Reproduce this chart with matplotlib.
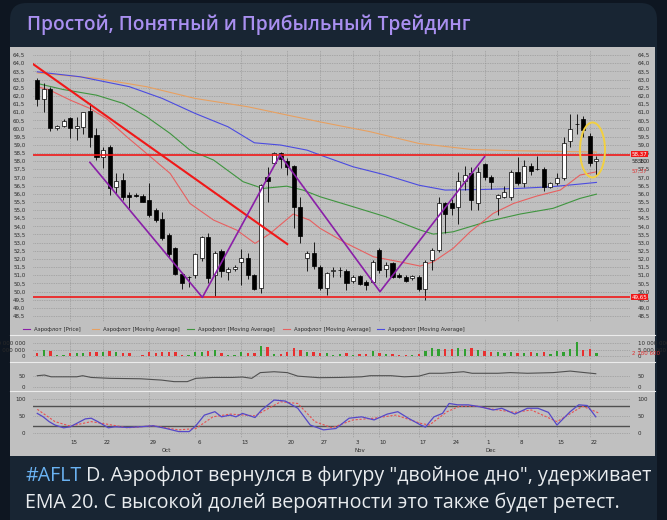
import numpy as np
import matplotlib
matplotlib.use('Agg')
import matplotlib.pyplot as plt
from matplotlib.patches import FancyBboxPatch, Rectangle, Ellipse
from matplotlib.lines import Line2D
from matplotlib.transforms import blended_transform_factory

W, H = 667, 520

# --- свечи (open, high, low, close) ---
opens = [62.96, 61.78, 62.39, 60.00, 60.14, 60.61, 60.00, 60.10, 61.08, 59.59,
         58.26, 58.88, 56.38, 56.83, 55.90, 55.90, 55.85, 55.60, 54.99, 54.42,
         53.46, 52.64, 51.07, 50.86, 51.00, 52.03, 53.32, 51.00, 52.50, 51.20,
         51.35, 51.83, 52.05, 51.00, 50.19, 57.00, 57.90, 58.47, 58.00, 57.69,
         55.20, 52.03, 52.37, 51.52, 50.19, 51.27, 51.30, 51.27, 50.66, 50.95,
         50.60, 50.60, 52.54, 51.35, 51.72, 51.00, 50.90, 50.80, 50.90, 50.13,
         51.93, 52.54, 55.40, 55.40, 55.20, 56.79, 57.24, 55.40, 57.81, 57.04,
         55.71, 55.81, 55.77, 57.34, 56.63, 57.69, 57.49, 57.49, 56.38, 56.63,
         56.94, 59.24, 60.27, 60.55, 59.53, 57.98]
highs = [63.07, 62.76, 62.56, 60.20, 60.55, 60.72, 60.72, 61.02, 61.53, 60.00,
         58.84, 58.98, 57.28, 57.24, 56.10, 56.05, 56.00, 56.63, 55.10, 54.89,
         53.56, 52.70, 51.10, 50.95, 52.37, 53.40, 53.56, 52.50, 52.58, 51.50,
         51.62, 52.58, 52.37, 51.10, 56.59, 57.61, 58.57, 58.57, 58.16, 57.75,
         55.77, 52.50, 53.05, 51.62, 51.20, 51.52, 51.50, 51.35, 51.00, 51.00,
         50.70, 51.93, 52.64, 51.83, 51.83, 51.11, 51.00, 51.00, 51.00, 51.93,
         52.64, 55.81, 55.50, 55.65, 57.34, 57.69, 57.65, 57.61, 57.90, 57.14,
         56.01, 56.47, 57.44, 58.26, 58.06, 57.85, 58.30, 57.61, 56.73, 57.24,
         59.45, 60.88, 60.88, 60.76, 59.69, 58.30]
lows = [61.37, 61.02, 59.86, 59.90, 60.06, 59.39, 59.28, 59.65, 58.88, 58.06,
        57.55, 55.91, 56.01, 55.60, 55.10, 55.77, 55.50, 54.58, 54.28, 53.15,
        52.13, 51.00, 50.13, 50.25, 50.80, 51.90, 50.50, 49.70, 50.90, 50.70,
        51.27, 50.40, 50.74, 50.10, 49.88, 55.50, 57.75, 57.55, 57.14, 53.87,
        52.95, 51.27, 51.40, 50.09, 49.78, 50.90, 50.90, 50.09, 50.54, 50.40,
        50.09, 50.50, 51.11, 50.90, 50.80, 50.80, 50.60, 50.70, 50.05, 49.50,
        51.31, 52.44, 53.56, 54.69, 54.17, 56.22, 54.99, 54.99, 56.83, 56.26,
        54.69, 55.71, 55.60, 56.53, 56.38, 57.14, 57.44, 56.18, 56.32, 56.53,
        56.83, 58.84, 59.65, 59.45, 57.69, 57.14]
closes = [61.78, 62.39, 60.00, 60.14, 60.47, 60.00, 60.14, 60.98, 59.49, 58.26,
          58.67, 56.32, 56.79, 55.81, 55.81, 55.85, 55.50, 54.69, 54.38, 53.26,
          52.33, 51.10, 50.54, 50.86, 52.33, 53.32, 50.80, 52.37, 51.27, 51.35,
          51.52, 52.05, 51.00, 50.17, 56.53, 56.79, 58.51, 58.10, 57.65, 55.16,
          53.40, 52.37, 51.56, 50.19, 51.11, 51.30, 51.30, 50.54, 50.86, 50.46,
          50.40, 51.83, 51.31, 51.62, 50.90, 50.86, 50.66, 50.95, 50.13, 51.83,
          52.54, 55.40, 54.75, 55.10, 56.79, 57.14, 55.61, 57.34, 57.00, 56.73,
          55.91, 56.12, 57.34, 56.63, 57.69, 57.40, 57.49, 56.38, 56.63, 56.94,
          59.12, 59.94, 60.27, 59.90, 57.90, 58.10]

# объём, млн
volumes = [2.6, 5.0, 4.0, 0.6, 0.8, 2.2, 2.6, 2.0, 2.8, 3.2,
           3.0, 3.6, 3.0, 2.4, 2.6, 0.3, 0.4, 2.8, 2.0, 3.0,
           3.0, 3.4, 1.0, 0.8, 3.2, 2.8, 4.2, 4.6, 2.4, 0.8,
           0.4, 2.8, 2.6, 2.2, 8.0, 6.8, 1.2, 1.8, 3.2, 6.0,
           4.8, 3.0, 2.8, 2.0, 2.6, 1.0, 1.6, 2.6, 1.0, 1.2,
           1.2, 3.8, 2.4, 1.6, 1.2, 1.0, 0.8, 0.6, 1.2, 3.6,
           6.0, 5.4, 5.6, 5.4, 5.8, 5.6, 5.8, 5.0, 3.8, 3.4,
           2.8, 2.6, 3.2, 2.6, 2.4, 2.8, 2.6, 2.8, 1.8, 3.6,
           3.0, 5.2, 10.4, 4.4, 5.6, 2.4]

# скользящие средние: (индекс свечи, значение)
ma_orange_x = [0, 9, 16.6, 24, 32, 38, 43, 50.6, 58, 66, 73, 78, 85]
ma_orange_y = [63.4, 63.07, 62.56, 61.84, 61.33, 60.82, 60.4, 59.8, 59.08, 58.71, 58.63, 58.6, 58.55]
ma_blue_x = [0, 6.5, 14, 19, 24, 29, 33, 37, 41, 43, 48, 53, 58, 62, 68, 73, 78, 82.5, 85]
ma_blue_y = [63.47, 63.17, 62.56, 61.84, 60.92, 60.1, 59.12, 58.98, 58.67, 58.37, 57.65, 57.14,
             56.52, 56.22, 56.26, 56.32, 56.42, 56.59, 56.69]
ma_green_x = [0, 3.9, 9, 13.1, 16.6, 20.2, 23.2, 26.8, 31.3, 34.3, 37.9, 40.4, 43, 48, 53, 58.2,
              60.2, 63.2, 68.3, 73.4, 78.4, 82.5, 85]
ma_green_y = [62.76, 62.39, 62.04, 61.53, 60.72, 59.69, 58.67, 58.06, 56.73, 56.32, 56.46, 56.22,
              55.81, 55.2, 54.58, 53.77, 53.52, 53.66, 54.28, 54.75, 55.1, 55.71, 55.97]
ma_red_x = [0, 1.9, 5, 8, 10.5, 13.6, 16.6, 20.2, 23.2, 26.8, 30.3, 33.1, 35.4, 38.9, 41.4, 43,
            47, 51.1, 55.1, 58.2, 60.2, 63.2, 65.8, 69.3, 72.4, 75.9, 79.5, 82.5, 85]
ma_red_y = [62.56, 62.35, 61.74, 61.23, 60.61, 59.49, 58.47, 57.24, 55.4, 54.38, 53.77, 52.95,
            53.56, 54.75, 54.38, 53.87, 52.95, 52.13, 51.82, 51.56, 51.82, 52.64, 53.66, 54.79,
            55.4, 55.85, 56.22, 57.14, 57.34]

# разметка
trend_x = [-0.65, 38.0]
trend_y = [63.95, 52.91]
zigzag_x = [8.0, 25.1, 36.9, 52.1, 68.0]
zigzag_y = [57.92, 49.64, 58.37, 49.99, 58.27]
levels = [58.37, 49.65]

# нижние индикаторы
osc_x = [0, 1.1, 2.1, 6.0, 6.9, 8.2, 11.1, 15.7, 18.9, 20.8, 22.8, 24.1, 26.7, 29.6, 31.2, 32.6,
         33.9, 36.0, 38.0, 39.6, 42.8, 46.1, 49.3, 50.6, 53.8, 55.8, 58.0, 59.6, 61.6, 64.8,
         66.1, 70.0, 71.9, 74.5, 78.4, 81.0, 82.9, 84.9]
osc_y = [50, 53, 45, 45, 50, 42, 38, 36, 30, 23, 23, 38, 42, 42, 44, 38, 64, 68, 64, 48, 41, 42,
         45, 50, 50, 45, 48, 61, 61, 68, 61, 61, 64, 61, 64, 71, 65, 59]
stk_x = [0, 0.9, 1.8, 2.7, 4.0, 5.0, 7.3, 8.2, 9.2, 10.8, 11.8, 13.7, 15.7, 17.6, 19.6, 21.5,
         23.1, 24.1, 25.4, 27.0, 28.0, 29.3, 30.2, 31.2, 33.1, 34.1, 36.0, 37.7, 39.6, 41.5,
         43.5, 45.4, 47.4, 49.3, 51.2, 53.2, 54.8, 56.4, 58.3, 59.0, 60.3, 61.6, 62.6, 63.9,
         65.5, 67.4, 69.3, 70.6, 72.6, 74.5, 76.1, 77.7, 79.0, 81.0, 82.3, 83.6, 84.9]
stk_y = [58, 48, 34, 24, 16, 19, 42, 44, 34, 16, 19, 17, 19, 22, 14, 5, 5, 22, 53, 63, 48, 53,
         48, 58, 46, 68, 97, 94, 73, 24, 10, 14, 44, 48, 39, 56, 63, 44, 24, 18, 48, 58, 87, 83,
         83, 77, 68, 73, 56, 73, 73, 61, 24, 63, 83, 81, 48]
sig_x = [0, 2.7, 5, 8.2, 10.8, 13.7, 17.6, 21.5, 24.1, 26.7, 29.3, 33.1, 37.0, 39.6, 42.2, 44.8,
         48.0, 51.2, 54.5, 58.3, 59.6, 62.3, 64.2, 66.8, 69.3, 72.6, 75.1, 79.0, 82.9, 85.5]
sig_y = [70, 34, 21, 34, 26, 16, 22, 10, 14, 48, 56, 51, 92, 87, 34, 16, 39, 44, 53, 29, 24, 63,
         79, 79, 70, 61, 68, 34, 79, 58]

date_ticks = [5, 10, 17, 24, 31, 38, 43, 48, 52, 58, 63, 68, 73, 79, 84]
date_labels = ['15', '22', '29', '6', '13', '20', '27', '3', '10', '17', '24', '1', '8', '15', '22']
month_pos = [19.7, 49, 69]
month_labels = ['Oct', 'Nov', 'Dec']

title = 'Простой, Понятный и Прибыльный Трейдинг'
tag = '#AFLT'
line1 = ' D. Аэрофлот вернулся в фигуру "двойное дно", удерживает'
line2 = 'EMA 20. С высокой долей вероятности это также будет ретест.'

BG = '#0e1621'
CARD = '#182533'
GRAY = '#c0c0c0'
GRID = '#8c8c8c'
TXT = '#2a2a2a'


def box(x0, y0, x1, y1):
    return [x0 / W, 1 - y1 / H, (x1 - x0) / W, (y1 - y0) / H]


fig = plt.figure(figsize=(W / 100, H / 100), dpi=100)
fig.patch.set_facecolor(BG)
card = FancyBboxPatch((10 / W, -0.1), 647 / W, (H - 3) / H + 0.1,
                      boxstyle='round,pad=0,rounding_size=0.025',
                      transform=fig.transFigure, facecolor=CARD, edgecolor='none',
                      mutation_aspect=W / H, zorder=-3)
fig.add_artist(card)
fig.add_artist(Rectangle((10 / W, 1 - 456 / H), 645 / W, 409 / H, transform=fig.transFigure,
                         facecolor=GRAY, edgecolor='none', zorder=-2))
for yy in [335, 362, 391]:
    fig.add_artist(Line2D([10 / W, 655 / W], [1 - yy / H] * 2, color='#ececec', lw=0.8, zorder=-1))

XL = (-0.65, 90.1)
n = len(opens)
idx = np.arange(n)


def style(ax):
    ax.set_facecolor('none')
    for s in ax.spines.values():
        s.set_visible(False)
    ax.set_xlim(*XL)
    ax.set_xticks(date_ticks)
    ax.tick_params(axis='x', bottom=False, labelbottom=False)
    ax.tick_params(axis='y', left=False, right=False, labelleft=True, labelright=True,
                   labelsize=4, labelcolor=TXT, pad=2)
    ax.grid(True, color=GRID, linestyle=(0, (1, 1.5)), linewidth=0.5)
    ax.set_axisbelow(True)


# ---- основная панель ----
ax = fig.add_axes(box(33, 50, 630, 322))
style(ax)
ax.set_ylim(48.13, 64.81)
pt = np.arange(48.5, 64.51, 0.5)
ax.set_yticks(pt)
ax.set_yticklabels([f'{v:.1f}'.replace('.', ',') for v in pt])

ax.plot(ma_orange_x, ma_orange_y, color='#e8a060', lw=0.8)
ax.plot(ma_blue_x, ma_blue_y, color='#4b4be0', lw=0.8)
ax.plot(ma_green_x, ma_green_y, color='#3f953f', lw=0.8)
ax.plot(ma_red_x, ma_red_y, color='#e86060', lw=0.8)

o = np.array(opens); c = np.array(closes)
ax.vlines(idx, lows, highs, color='black', lw=0.6, zorder=3)
body = np.maximum(np.abs(c - o), 0.03)
up = c >= o
ax.bar(idx, body, bottom=np.minimum(o, c), width=0.62,
       color=np.where(up, 'white', 'black'), edgecolor='black', lw=0.5, zorder=4)

for lv in levels:
    ax.axhline(lv, color='#f01818', lw=1.2, zorder=5)
ax.plot(trend_x, trend_y, color='#f01818', lw=1.5, zorder=5)
ax.plot(zigzag_x, zigzag_y, color='#8a1fa8', lw=1.2, zorder=6)
ax.add_patch(Ellipse((84.4, 58.68), 3.8, 3.37, fill=False, edgecolor='#f2d040', lw=1.4, zorder=7))

# метки справа
tr = blended_transform_factory(ax.transAxes, ax.transData)
ax.text(1.003, 58.42, '58,37', transform=tr, fontsize=4, color='white', va='center', ha='left',
        bbox=dict(facecolor='#f01818', edgecolor='none', pad=0.5), zorder=8)
ax.text(1.003, 57.98, '58,10', transform=tr, fontsize=4, color=TXT, va='center', ha='left', zorder=8)
ax.text(1.003, 57.37, '57,37', transform=tr, fontsize=4, color='#e03030', va='center', ha='left', zorder=8)
ax.text(1.003, 49.65, '49,65', transform=tr, fontsize=4, color='white', va='center', ha='left',
        bbox=dict(facecolor='#f01818', edgecolor='none', pad=0.5), zorder=8)

# легенда
leg = [('#8a1fa8', 'Аэрофлот [Price]', 23), ('#e8a060', 'Аэрофлот [Moving Average]', 92),
       ('#3f953f', 'Аэрофлот [Moving Average]', 187), ('#e86060', 'Аэрофлот [Moving Average]', 283),
       ('#4b4be0', 'Аэрофлот [Moving Average]', 377)]
for col, lab, x0 in leg:
    fig.add_artist(Line2D([x0 / W, (x0 + 7) / W], [1 - 329 / H] * 2, color=col, lw=0.8))
    fig.text((x0 + 11) / W, 1 - 329 / H, lab, fontsize=3.9, color=TXT, va='center')

# ---- объём ----
av = fig.add_axes(box(33, 339, 630, 360))
style(av)
av.set_ylim(-3.1, 13.1)
av.set_yticks([0, 5, 10])
av.set_yticklabels(['0', '5 000 000', '10 000 000'])
av.bar(idx, volumes, width=0.35, color=np.where(up, '#30a030', '#e83030'))
trv = blended_transform_factory(av.transAxes, av.transData)
av.text(1.003, 2.18, '2 180 600', transform=trv, fontsize=4, color='#e03030', va='center')

# ---- осциллятор ----
ao = fig.add_axes(box(33, 363, 630, 390))
style(ao)
ao.set_ylim(-15, 107.7)
ao.set_yticks([0, 50])
ao.plot(osc_x, osc_y, color='#505050', lw=0.8)

# ---- стохастик ----
ast = fig.add_axes(box(33, 392, 630, 438))
style(ast)
ast.set_ylim(-13.7, 120.4)
ast.set_yticks([0, 50, 100])
ast.axhline(80, color='#505050', lw=1)
ast.axhline(20, color='#505050', lw=1)
ast.plot(sig_x, sig_y, color='#e85050', lw=0.8, linestyle=(0, (2, 1.5)))
ast.plot(stk_x, stk_y, color='#5548c8', lw=0.9)

trd = blended_transform_factory(ast.transData, fig.transFigure)
for t, lab in zip(date_ticks, date_labels):
    fig.text(t + 0.6, 1 - 443 / H, lab, transform=trd, fontsize=4, color=TXT, ha='center', va='center')
for p, lab in zip(month_pos, month_labels):
    fig.text(p, 1 - 450.5 / H, lab, transform=trd, fontsize=4, color=TXT, ha='center', va='center')

# ---- тексты поста ----
r = fig.canvas.get_renderer()


def fit(x, y, s, width, **kw):
    t = fig.text(x / W, 1 - y / H, s, fontsize=10, va='center', ha='left', **kw)
    w = t.get_window_extent(r).width
    t.set_fontsize(10 * width / w)
    return t


fit(27, 25, title, 441, color='#a98ff0', family='Open Sans', weight='semibold')

full = tag + line1
t0 = fig.text(0, 0, full, fontsize=10, family='Open Sans')
fs = 10 * 627 / t0.get_window_extent(r).width
t0.remove()
ta = fig.text(25 / W, 1 - 476 / H, tag, fontsize=fs, family='Open Sans', color='#6ab2f2', va='center')
wa = ta.get_window_extent(r).width
fig.text((25 + wa) / W, 1 - 476 / H, line1, fontsize=fs, family='Open Sans', color='#e9ecef', va='center')
fig.text(25 / W, 1 - 503 / H, line2, fontsize=fs, family='Open Sans', color='#e9ecef', va='center')

fig.savefig('out.png', dpi=100, facecolor=BG)
